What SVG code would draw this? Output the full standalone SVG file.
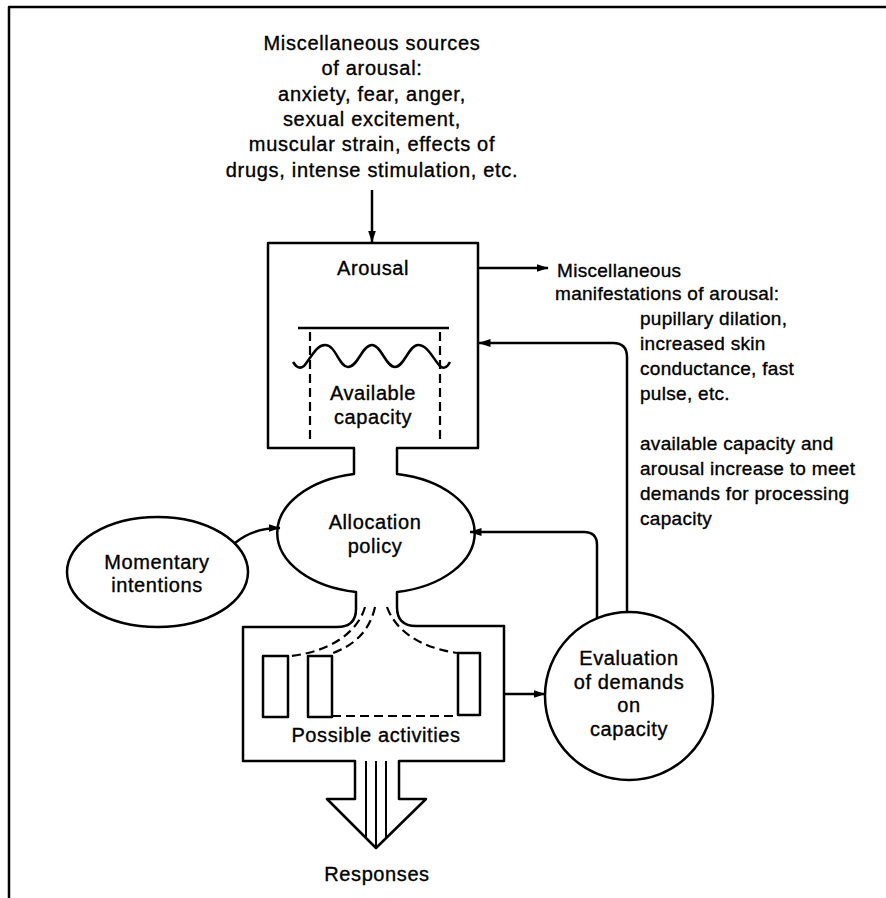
<svg xmlns="http://www.w3.org/2000/svg" width="886" height="898" viewBox="0 0 886 898">
<style>
  .ln { fill: none; stroke: #000; stroke-width: 2.5; stroke-linejoin: round; stroke-linecap: butt; }
  .dash { fill: none; stroke: #000; stroke-width: 2.2; stroke-dasharray: 9 5; }
  .thin { fill: none; stroke: #000; stroke-width: 2; }
  text { font-family: "Liberation Sans", Arial, sans-serif; font-size: 20px; fill: #000; stroke: #000; stroke-width: 0.35px; }
  .c { text-anchor: middle; letter-spacing: 0.6px; }
  .top { text-anchor: middle; letter-spacing: 0.7px; }
  .r { font-size: 19px; letter-spacing: 0.3px; }
</style>
<defs>
  <marker id="ah" viewBox="0 0 12 8" refX="11.5" refY="4" markerWidth="12" markerHeight="8" orient="auto" markerUnits="userSpaceOnUse">
    <path d="M0,0 L12,4 L0,8 z" fill="#000"/>
  </marker>
</defs>
<rect width="886" height="898" fill="#fff"/>
<g id="frame">
  <path class="ln" d="M9,898 L9,7 L886,7"/>
</g>
<g id="sources">
  <text class="top" x="372" y="50">Miscellaneous sources</text>
  <text class="top" x="372" y="75">of arousal:</text>
  <text class="top" x="372" y="101">anxiety, fear, anger,</text>
  <text class="top" x="372" y="126">sexual excitement,</text>
  <text class="top" x="372" y="151">muscular strain, effects of</text>
  <text class="top" x="372" y="177">drugs, intense stimulation, etc.</text>
</g>
<g id="structure">
  <path class="ln" d="M354,448 L268,448 L268,243 L478,243 L478,448 L397,448 L397,474 A95,60 0 0 1 397,592 L397,607 Q397,626 416,626 L504,626 L504,761 L399,761 L399,799 L426,799 L376,848 L327,799 L355,799 L355,761 L243,761 L243,627 L337,627 Q356,627 356,609 L356,592 A95,60 0 0 1 354,474 Z"/>
</g>
<g id="arousal">
  <text class="c" x="373" y="275">Arousal</text>
  <path class="ln" d="M298,328 L449,328"/>
  <path class="dash" d="M310,332 L310,444 M440,332 L440,444"/>
  <path class="ln" d="M293,362 C297,368 300,369 304,366 C311,358 316,345 325,345 C336,345 339,367 348,367 C358,367 362,345 372,345 C381,345 386,367 395,367 C404,367 409,345 418,345 C428,345 433,359 440,366 C443,369 447,368 450,362"/>
  <text class="c" x="373" y="400">Available</text>
  <text class="c" x="373" y="424">capacity</text>
</g>
<g id="allocation">
  <text class="c" x="375" y="529">Allocation</text>
  <text class="c" x="375" y="553">policy</text>
</g>
<g id="momentary">
  <ellipse class="ln" cx="157.5" cy="572" rx="90.5" ry="55"/>
  <text class="c" x="157" y="569">Momentary</text>
  <text class="c" x="157" y="592">intentions</text>
</g>
<g id="activities">
  <rect class="ln" x="263" y="656" width="25" height="61"/>
  <rect class="ln" x="308" y="656" width="24" height="61"/>
  <rect class="ln" x="458" y="653" width="22" height="62"/>
  <path class="dash" d="M332,716 L458,716"/>
  <path class="dash" d="M365,607 C358,632 330,652 290,656"/>
  <path class="dash" d="M375,607 C370,630 355,645 333,653"/>
  <path class="dash" d="M387,607 C395,630 420,648 458,653"/>
  <text class="c" x="376" y="742">Possible activities</text>
</g>
<g id="responses">
  <path class="thin" d="M366,761 L366,838 M376,761 L376,847 M386,761 L386,838"/>
  <text class="c" x="377" y="881">Responses</text>
</g>
<g id="evaluation">
  <circle class="ln" cx="629" cy="696" r="84"/>
  <text class="c" x="629" y="665">Evaluation</text>
  <text class="c" x="629" y="689">of demands</text>
  <text class="c" x="629" y="712">on</text>
  <text class="c" x="629" y="736">capacity</text>
</g>
<g id="manifestations">
  <text class="r" x="557" y="277">Miscellaneous</text>
  <text class="r" x="555" y="300">manifestations of arousal:</text>
  <text class="r" x="640" y="325">pupillary dilation,</text>
  <text class="r" x="640" y="350">increased skin</text>
  <text class="r" x="640" y="375">conductance, fast</text>
  <text class="r" x="640" y="400">pulse,  etc.</text>
  <text class="r" x="640" y="450">available capacity and</text>
  <text class="r" x="640" y="475">arousal increase to meet</text>
  <text class="r" x="640" y="500">demands for processing</text>
  <text class="r" x="640" y="525">capacity</text>
</g>
<g id="connectors">
  <path class="ln" d="M372,190 L372,242" marker-end="url(#ah)"/>
  <path class="ln" d="M478,268 L548,268" marker-end="url(#ah)"/>
  <path class="ln" d="M627,613 L627,357 Q627,343 613,343 L479,343" marker-end="url(#ah)"/>
  <path class="ln" d="M597,619 L597,545 Q597,532 584,532 L470,532" marker-end="url(#ah)"/>
  <path class="ln" d="M504,694 L545,694" marker-end="url(#ah)"/>
  <path class="ln" d="M235,543 C248,532 262,528 280,528" marker-end="url(#ah)"/>
</g>
</svg>
